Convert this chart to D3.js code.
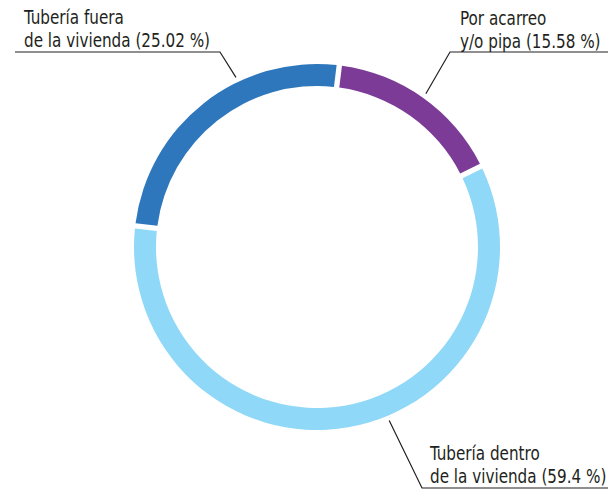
<!DOCTYPE html>
<html>
<head>
<meta charset="utf-8">
<script src="https://cdn.jsdelivr.net/npm/d3@7"></script>
<style>
  body { margin: 0; background: #fff; }
  text { font-family: "DejaVu Sans Condensed", "Liberation Sans Narrow", sans-serif; fill: #231f20; }
</style>
</head>
<body>
<svg id="chart"></svg>
<script>
var categories = ["Por acarreo y/o pipa", "Tubería dentro de la vivienda", "Tubería fuera de la vivienda"];
var values = [15.58, 59.4, 25.02];
var colors = ["#7b3b97", "#8fd8f8", "#2f77bd"];
var labelLines = [
  ["Por acarreo", "y/o pipa (15.58 %)"],
  ["Tubería dentro", "de la vivienda (59.4 %)"],
  ["Tubería fuera", "de la vivienda (25.02 %)"]
];

var width = 608, height = 493;
var cx = 317, cy = 247,
    outerR = 183, innerR = 161;

var svg = d3.select("#chart")
    .attr("width", width)
    .attr("height", height);

var g = svg.append("g")
    .attr("transform", "translate(" + cx + "," + cy + ")");

var startA = 7 * Math.PI / 180;
var pie = d3.pie()
    .sort(null)
    .startAngle(startA)
    .endAngle(startA + 2 * Math.PI)
    .padAngle(0.022);

var arc = d3.arc()
    .innerRadius(innerR)
    .outerRadius(outerR);

var arcs = pie(values);

g.selectAll("path")
  .data(arcs)
  .join("path")
    .attr("fill", (d, i) => colors[i])
    .attr("d", arc);

// where each leader touches the ring (fraction of the slice) and where its label sits
var layout = [
  {t: 0.5, elbow: [450, 52], end: 608, tx: 460, ty: 25},
  {t: 0.44, elbow: [422, 488], end: 608, tx: 430, ty: 460},
  {t: 0.64, elbow: [220, 52], end: 15, tx: 24, ty: 24}
];

var lineH = 23;

arcs.forEach(function(d, i) {
  var L = layout[i];
  var a = d.startAngle + (d.endAngle - d.startAngle) * L.t;
  var r = outerR + 5;
  var p = [cx + r * Math.sin(a), cy - r * Math.cos(a)];
  svg.append("polyline")
      .attr("points", [p, L.elbow, [L.end, L.elbow[1]]].map(q => q.join(",")).join(" "))
      .attr("fill", "none")
      .attr("stroke", "#231f20")
      .attr("stroke-width", 1.2);
  var t = svg.append("text")
      .attr("transform", "translate(" + L.tx + "," + L.ty + ") scale(0.89,1)")
      .attr("font-size", 19);
  labelLines[i].forEach(function(s, k) {
    t.append("tspan")
        .attr("x", 0)
        .attr("dy", k == 0 ? 0 : lineH)
        .text(s);
  });
});
</script>
</body>
</html>
